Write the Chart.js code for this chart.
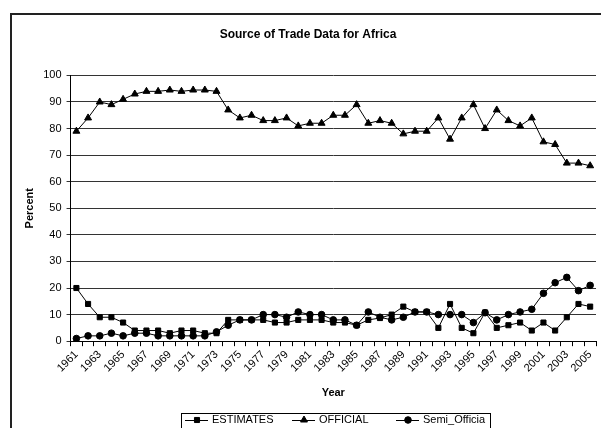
<!DOCTYPE html>
<html>
<head>
<meta charset="utf-8">
<script src="https://cdn.jsdelivr.net/npm/chart.js@4/dist/chart.umd.min.js"></script>
<style>
  html, body { margin: 0; padding: 0; background: #fff; overflow: hidden; }
  #wrap { width: 601px; height: 428px; position: relative; }
</style>
</head>
<body>
<div id="wrap"><canvas id="chart" width="601" height="428"></canvas></div>
<script>
// categories
const years = ['1961','1962','1963','1964','1965','1966','1967','1968','1969','1970',
  '1971','1972','1973','1974','1975','1976','1977','1978','1979','1980',
  '1981','1982','1983','1984','1985','1986','1987','1988','1989','1990',
  '1991','1992','1993','1994','1995','1996','1997','1998','1999','2000',
  '2001','2002','2003','2004','2005'];

// series values (percent)
const estimates = [20, 14, 9, 9, 7, 4, 4, 4, 3, 4,
  4, 3, 3, 8, 8, 8, 8, 7, 7, 8,
  8, 8, 7, 7, 6, 8, 8.7, 10, 13, 11,
  11, 5, 14, 5, 3, 10.8, 5, 6, 7, 4,
  7, 4, 9, 14, 13];
const official = [79, 84, 90, 89, 91, 93, 94, 94, 94.5, 94,
  94.5, 94.5, 94, 87, 84, 85, 83, 83, 84, 81,
  82, 82, 85, 85, 89, 82, 83, 82, 78, 79,
  79, 84, 76, 84, 89, 80, 87, 83, 81, 84,
  75, 74, 67, 67, 66];
const semiOfficial = [1, 2, 2, 3, 2, 3, 3, 2, 2, 2,
  2, 2, 3.5, 6, 8, 8, 10, 10, 9, 11,
  10, 10, 8, 8, 6, 11, 9, 8, 9, 11,
  11, 10, 10, 10, 7, 10.7, 8, 10, 11, 12,
  18, 22, 24, 19, 21];

const seriesNames = ['ESTIMATES', 'OFFICIAL', 'Semi_Officia'];
const yTicks = [0, 10, 20, 30, 40, 50, 60, 70, 80, 90, 100];

Chart.defaults.font.family = '"Liberation Sans", Arial, sans-serif';
Chart.defaults.color = '#000';

// outer frame of the chart (white background + dark border)
const framePlugin = {
  id: 'frame',
  beforeDraw(chart) {
    const ctx = chart.ctx;
    ctx.save();
    ctx.fillStyle = '#fff';
    ctx.fillRect(0, 0, chart.width, chart.height);
    ctx.strokeStyle = '#222';
    ctx.lineWidth = 2;
    ctx.strokeRect(11, 14, chart.width + 20, chart.height + 20);
    ctx.restore();
  }
};

// Excel style legend: boxed, line + marker samples
const boxLegend = {
  id: 'boxLegend',
  afterDraw(chart) {
    const ctx = chart.ctx;
    const left = 181, top = 413, right = 490;
    const y = 420;
    ctx.save();
    ctx.strokeStyle = '#000';
    ctx.lineWidth = 1;
    ctx.strokeRect(left + 0.5, top + 0.5, right - left, 40);
    ctx.font = '11px "Liberation Sans", Arial, sans-serif';
    ctx.textBaseline = 'middle';
    ctx.fillStyle = '#000';
    const starts = [185, 292, 396];
    chart.data.datasets.forEach(function(ds, i) {
      const x = starts[i];
      ctx.beginPath();
      ctx.moveTo(x, y + 0.5);
      ctx.lineTo(x + 23, y + 0.5);
      ctx.strokeStyle = '#000';
      ctx.lineWidth = 1;
      ctx.stroke();
      ctx.fillStyle = '#000';
      Chart.helpers.drawPoint(ctx, {
        pointStyle: ds.pointStyle,
        radius: ds.pointRadius,
        rotation: 0,
        borderWidth: 1
      }, x + 12, y);
      ctx.fillStyle = '#000';
      ctx.fillText(ds.label, x + 27, y);
    });
    ctx.restore();
  }
};

function makeSet(label, values, style, radius, order) {
  return {
    label: label,
    data: values,
    borderColor: '#000',
    backgroundColor: '#000',
    borderWidth: 1,
    pointStyle: style,
    pointRadius: radius,
    pointBackgroundColor: '#000',
    pointBorderColor: '#000',
    pointBorderWidth: 1,
    tension: 0,
    order: order
  };
}

new Chart(document.getElementById('chart'), {
  type: 'line',
  data: {
    labels: years,
    datasets: [
      makeSet(seriesNames[0], estimates, 'rect', 3.6, 3),
      makeSet(seriesNames[1], official, 'triangle', 4, 2),
      makeSet(seriesNames[2], semiOfficial, 'circle', 3.3, 1)
    ]
  },
  options: {
    responsive: false,
    animation: false,
    layout: { padding: { left: 12, top: 14, right: -3, bottom: 28 } },
    plugins: {
      legend: { display: false },
      tooltip: { enabled: false },
      title: {
        display: true,
        text: 'Source of Trade Data for Africa',
        color: '#000',
        font: { size: 12, weight: 'bold' },
        padding: { top: 13, bottom: 34 }
      }
    },
    scales: {
      x: {
        offset: true,
        // plot area runs to the right edge, as in the cropped original
        afterFit: function(scale) { scale.paddingRight = 0; },
        grid: {
          offset: true,
          drawOnChartArea: false,
          drawTicks: true,
          tickLength: 5,
          color: '#000'
        },
        border: { color: '#000', width: 1 },
        ticks: {
          autoSkip: false,
          minRotation: 45,
          maxRotation: 45,
          padding: 2,
          font: { size: 11 },
          callback: function(value, index) {
            return index % 2 === 0 ? years[index] : '';
          }
        },
        title: {
          display: true,
          text: 'Year',
          font: { size: 11, weight: 'bold' },
          padding: { top: 10, bottom: 0 }
        }
      },
      y: {
        min: 0,
        max: 100,
        afterBuildTicks: function(axis) {
          axis.ticks = yTicks.map(function(v) { return { value: v }; });
        },
        grid: {
          color: '#333',
          tickLength: 4
        },
        border: { color: '#000', width: 1 },
        ticks: {
          padding: 5,
          font: { size: 11 }
        },
        title: {
          display: true,
          text: 'Percent',
          font: { size: 11, weight: 'bold' },
          padding: { top: 11, bottom: 2 }
        }
      }
    }
  },
  plugins: [framePlugin, boxLegend]
});
</script>
</body>
</html>
